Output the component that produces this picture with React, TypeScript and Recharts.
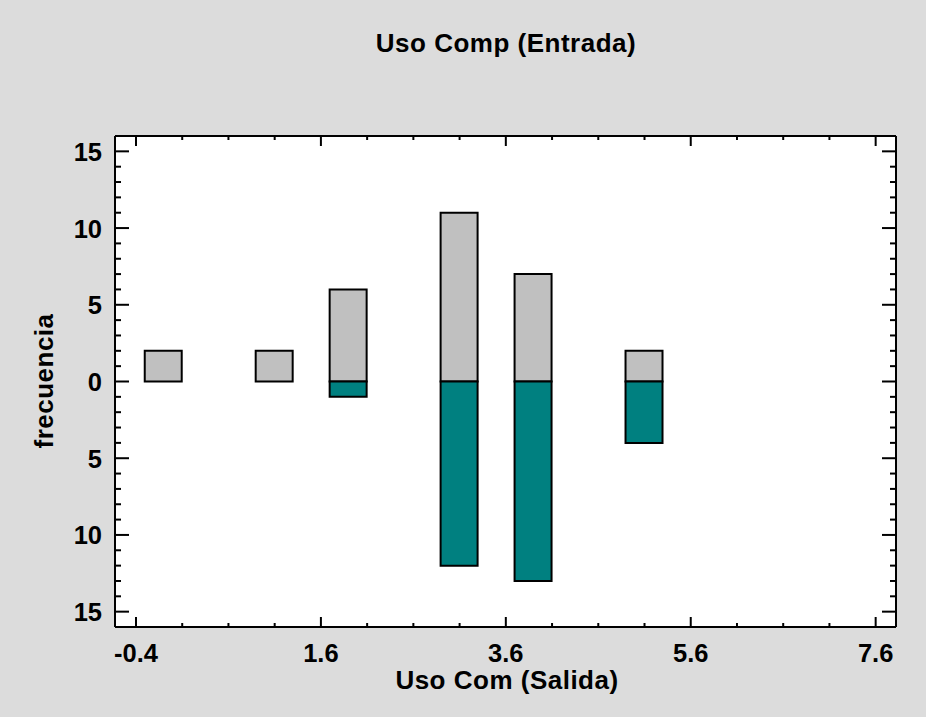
import React from "react"
import { BarChart, Bar, XAxis, YAxis, CartesianGrid } from "recharts"

// bin centres of the histogram (Uso Com) and counts for the two groups
const binCenters = [-0.1, 1.1, 1.9, 3.1, 3.9, 5.1]
const entradaCounts = [2, 2, 6, 11, 7, 2]
const salidaCounts = [0, 0, 1, 12, 13, 4]
const binWidth = 0.4

const xTicks = [-0.4, 0.1, 0.6, 1.1, 1.6, 2.1, 2.6, 3.1, 3.6, 4.1, 4.6, 5.1, 5.6, 6.1, 6.6, 7.1, 7.6]
const xMajorTicks = [-0.4, 1.6, 3.6, 5.6, 7.6]
const yTicks = [-15, -14, -13, -12, -11, -10, -9, -8, -7, -6, -5, -4, -3, -2, -1, 0, 1, 2, 3, 4, 5, 6, 7, 8, 9, 10, 11, 12, 13, 14, 15]
const yMajorTicks = [-15, -10, -5, 0, 5, 10, 15]

const xDomain: [number, number] = [-0.627, 7.82]
const yDomain: [number, number] = [-16, 16]

const W = 926
const H = 717
const margin = { top: 135, right: 29, bottom: 0, left: 0 }
const yAxisWidth = 115
const xAxisHeight = 90
const plotWidth = W - margin.left - margin.right - yAxisWidth - 1

const data = binCenters.map((x, i) => ({
  x,
  entrada: entradaCounts[i],
  salida: -salidaCounts[i],
}))

const font = "'Liberation Sans', Arial, sans-serif"

const isMajor = (list: number[], v: number) => list.some((m) => Math.abs(m - v) < 1e-6)

function BottomTick(props: any) {
  const { x, y, payload } = props
  const major = isMajor(xMajorTicks, payload.value)
  return (
    <g>
      <line x1={x} x2={x} y1={y} y2={y - (major ? 10 : 4)} stroke="#000" strokeWidth={2} />
      {major && (
        <text x={x} y={y + 35} textAnchor="middle" fontFamily={font} fontWeight="bold" fontSize={25.5} fill="#000">
          {payload.value.toFixed(1)}
        </text>
      )}
    </g>
  )
}

function TopTick(props: any) {
  const { x, y, payload } = props
  const major = isMajor(xMajorTicks, payload.value)
  return <line x1={x} x2={x} y1={y} y2={y + (major ? 10 : 4)} stroke="#000" strokeWidth={2} />
}

function LeftTick(props: any) {
  const { x, y, payload } = props
  const major = isMajor(yMajorTicks, payload.value)
  return (
    <g>
      <line x1={x} x2={x + (major ? 14 : 6)} y1={y} y2={y} stroke="#000" strokeWidth={2} />
      {major && (
        <text x={x - 13} y={y + 9.5} textAnchor="end" fontFamily={font} fontWeight="bold" fontSize={25.5} fill="#000">
          {Math.abs(payload.value)}
        </text>
      )}
    </g>
  )
}

function RightTick(props: any) {
  const { x, y, payload } = props
  const major = isMajor(yMajorTicks, payload.value)
  return <line x1={x} x2={x - (major ? 14 : 6)} y1={y} y2={y} stroke="#000" strokeWidth={2} />
}

export default function App() {
  const barSize = (binWidth * plotWidth) / (xDomain[1] - xDomain[0])
  return (
    <div style={{ position: "absolute", left: 0, top: 0, width: W, height: H, background: "#dcdcdc" }}>
      <BarChart width={W} height={H} data={data} margin={margin} stackOffset="sign">
        <CartesianGrid fill="#fff" horizontal={false} vertical={false} />
        <XAxis
          dataKey="x"
          type="number"
          domain={xDomain}
          allowDataOverflow
          ticks={xTicks}
          interval={0}
          height={xAxisHeight}
          tickSize={0}
          tickMargin={0}
          tickLine={false}
          axisLine={{ stroke: "#000", strokeWidth: 2 }}
          tick={(p: any) => <BottomTick {...p} />}
        />
        <XAxis
          xAxisId="top"
          orientation="top"
          dataKey="x"
          type="number"
          domain={xDomain}
          allowDataOverflow
          ticks={xTicks}
          interval={0}
          height={1}
          tickSize={0}
          tickMargin={0}
          tickLine={false}
          axisLine={{ stroke: "#000", strokeWidth: 2 }}
          tick={(p: any) => <TopTick {...p} />}
        />
        <YAxis
          type="number"
          domain={yDomain}
          allowDataOverflow
          ticks={yTicks}
          interval={0}
          width={yAxisWidth}
          tickSize={0}
          tickMargin={0}
          tickLine={false}
          axisLine={{ stroke: "#000", strokeWidth: 2 }}
          tick={(p: any) => <LeftTick {...p} />}
        />
        <YAxis
          yAxisId="right"
          orientation="right"
          type="number"
          domain={yDomain}
          allowDataOverflow
          ticks={yTicks}
          interval={0}
          width={1}
          tickSize={0}
          tickMargin={0}
          tickLine={false}
          axisLine={{ stroke: "#000", strokeWidth: 2 }}
          tick={(p: any) => <RightTick {...p} />}
        />
        <Bar dataKey="entrada" stackId="a" fill="#c0c0c0" stroke="#000" strokeWidth={2} barSize={barSize} isAnimationActive={false} />
        <Bar dataKey="salida" stackId="a" fill="#008080" stroke="#000" strokeWidth={2} barSize={barSize} isAnimationActive={false} />
      </BarChart>
      <svg width={W} height={H} style={{ position: "absolute", left: 0, top: 0, pointerEvents: "none" }}>
        <text x={506} y={52} textAnchor="middle" fontFamily={font} fontWeight="bold" fontSize={26} letterSpacing={0.5} fill="#000">
          Uso Comp (Entrada)
        </text>
        <text x={507} y={689} textAnchor="middle" fontFamily={font} fontWeight="bold" fontSize={26} letterSpacing={0.5} fill="#000">
          Uso Com (Salida)
        </text>
        <text
          x={53}
          y={381}
          transform="rotate(-90 53 381)"
          textAnchor="middle"
          fontFamily={font}
          fontWeight="bold"
          fontSize={26}
          letterSpacing={0.5}
          fill="#000"
        >
          frecuencia
        </text>
      </svg>
    </div>
  )
}
